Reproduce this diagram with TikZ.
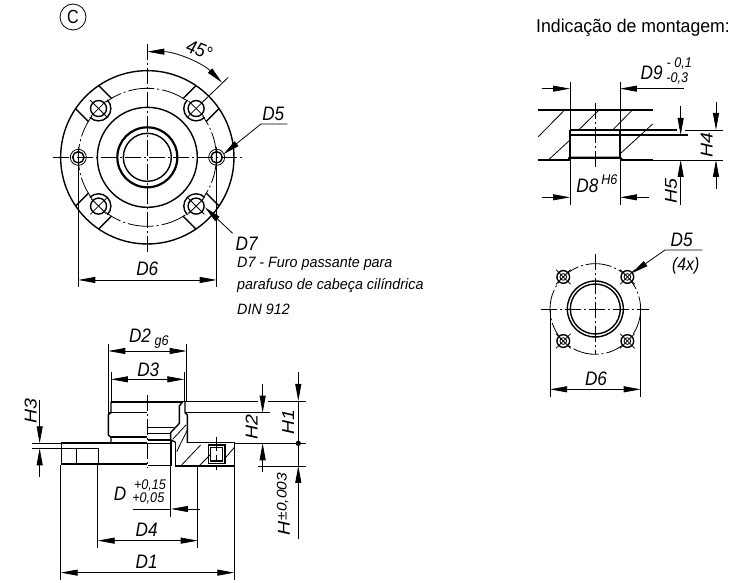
\documentclass[tikz,border=0pt]{standalone}
\usepackage{fontspec}
\setmainfont{Liberation Sans}
\usetikzlibrary{arrows.meta}
\tikzset{
  outline/.style={line width=1.4pt},
  heavy/.style={line width=2.2pt},
  thinline/.style={line width=0.8pt},
  dimline/.style={line width=0.8pt,>={Triangle[length=17pt,width=6pt]}},
  centerline/.style={line width=0.8pt,dash pattern=on 16pt off 3pt on 2pt off 3pt},
  dimlabel/.style={font=\fontsize{19.5}{19.5}\selectfont\itshape,inner sep=0pt,xscale=0.88},
  tollabel/.style={font=\fontsize{14}{14}\selectfont\itshape,inner sep=0pt,xscale=0.9},
  notelabel/.style={font=\fontsize{15}{16}\selectfont\itshape,inner sep=0pt,anchor=west,xscale=0.955}
}
\begin{document}
\begin{tikzpicture}[x=1pt,y=-1pt]
    \useasboundingbox (0,0) rectangle (750,583);

    % Title and note
    \node[draw,thinline,circle,minimum size=26pt,inner sep=0pt,font=\fontsize{19}{19}\selectfont] (markC) at (73,17) {\scalebox{0.85}[1]{C}};
    \node[font=\fontsize{18.5}{19}\selectfont,inner sep=0pt,anchor=west,xscale=0.956] (mounttitle) at (536,28) {Indicação de montagem:};

    % Flange seen from the front
    \begin{scope}[shift={(40,0)},scale=0.3333]
        \draw[outline] (322,472) circle[radius=260];
        \draw[outline] (322,472) circle[radius=150];
        \draw[heavy] (322,472) circle[radius=90];
        \draw[outline] (322,472) circle[radius=72];
        \draw[thinline,dash pattern=on 26pt off 3pt on 2pt off 3pt] (322,472) circle[radius=207];
        \draw[centerline] (38,472) -- (608,472);
        \draw[centerline] (322,132) -- (322,758);
        % Counterbored holes with their pockets
        \foreach \ang in {45,135,225,315} {
            \begin{scope}[shift={(322,472)},rotate=\ang]
                \fill[white] (207,0) circle[radius=30];
                \draw[outline] (207,37) arc[start angle=90,end angle=270,radius=37];
                \draw[outline] (207,0) circle[radius=24];
                \draw[outline] (200,49) -- (256,49);
                \draw[outline] (200,-49) -- (256,-49);
                \draw[thinline] (172,0) -- (242,0);
                \draw[thinline] (207,-32) -- (207,32);
            \end{scope}
        }
        % Plain holes on the axis
        \foreach \hx in {115,530} {
            \draw[outline] (\hx,472) circle[radius=17];
            \draw[thinline] (\hx,472) circle[radius=24];
            \draw[thinline] (\hx,440) -- (\hx,505);
        }
        % 45 degree dimension
        \coordinate (arcstart) at (322,155);
        \draw[thinline] (490,304) -- (565,232);
        \draw[dimline,<->] (arcstart) arc[start angle=-90,end angle=-45,radius=317];
        \node[dimlabel,rotate=-20] (angle45) at (478,150) {45°};
        % D5 and D7 leaders
        \coordinate (leadD5) at (663,372);
        \coordinate (tipD5) at (550,463);
        \draw[dimline,->] (leadD5) -- (tipD5);
        \draw[thinline] (leadD5) -- (742,372);
        \node[dimlabel] (labelD5) at (700,342) {D5};
        \coordinate (leadD7) at (578,700);
        \coordinate (tipD7) at (495,622);
        \draw[dimline,->] (leadD7) -- (tipD7);
        \node[dimlabel] (labelD7) at (620,732) {D7};
        % D6
        \draw[thinline] (115,472) -- (115,862);
        \draw[thinline] (530,472) -- (530,862);
        \draw[dimline,<->] (115,840) -- (530,840);
        \node[dimlabel] (labelD6) at (322,805) {D6};
    \end{scope}

    \node[notelabel] (note1) at (237,264) {D7 - Furo passante para};
    \node[notelabel] (note2) at (237,286) {parafuso de cabeça cilíndrica};
    \node[notelabel] (note3) at (237,309) {DIN 912};

    % Section through the flange
    \begin{scope}[shift={(20,320)},scale=0.3333]
        % hub, left half
        \draw[heavy] (273,245) -- (490,245);
        \draw[outline] (273,245) -- (273,278) -- (265,284) -- (265,345) -- (273,352) -- (273,368);
        \draw[outline] (265,278) -- (382,278);
        \draw[heavy] (273,350) -- (382,350);
        % hub, right half
        \draw[outline] (495,245) -- (495,278) -- (502,285) -- (502,368);
        \draw[outline] (488,245) -- (478,258) -- (478,310) -- (452,338) -- (452,360) -- (466,366);
        \draw[outline] (385,322) -- (462,322);
        \draw[outline] (385,340) -- (452,340);
        \draw[outline] (385,360) -- (452,360);
        \draw[thinline] (458,358) -- (498,315);
        \draw[thinline] (470,395) -- (502,330);
        % flange body
        \draw[heavy] (122,370) -- (382,370);
        \draw[outline] (385,370) -- (455,370);
        \draw[outline] (502,368) -- (643,368) -- (643,438);
        \draw[outline] (125,370) -- (125,432);
        \draw[heavy] (122,432) -- (382,432);
        \draw[outline] (385,436) -- (455,436);
        \draw[outline] (466,438) -- (645,438);
        \draw[outline] (125,385) -- (235,385) -- (235,432);
        \draw[outline] (170,385) -- (170,432);
        \draw[outline] (453,360) -- (453,436);
        \draw[line width=1pt] (453,436) -- (453,590);
        \draw[outline] (466,366) -- (466,438);
        % cap screw pocket
        \draw[outline] (565,375) rectangle (615,430);
        \draw[outline] (572,382) rectangle (608,423);
        \draw[thinline,dash pattern=on 14pt off 4pt on 6pt off 4pt] (590,350) -- (590,450);
        % hatching
        \draw[thinline] (485,435) -- (542,375);
        \draw[thinline] (540,435) -- (570,405);
        \draw[thinline] (615,415) -- (645,380);
        % axis
        \draw[centerline] (382,226) -- (382,445);
        % H3
        \draw[thinline] (37,370) -- (125,370);
        \draw[thinline] (37,385) -- (125,385);
        \draw[dimline,->] (59,240) -- (59,370);
        \draw[dimline,->] (59,472) -- (59,385);
        \node[dimlabel,rotate=90] (labelH3) at (32,272) {H3};
        % D2 and D3
        \draw[thinline] (265,72) -- (265,282);
        \draw[thinline] (500,72) -- (500,245);
        \draw[dimline,<->] (265,93) -- (500,93);
        \node[dimlabel] (labelD2) at (360,48) {D2};
        \node[tollabel] (tolD2) at (425,66) {g6};
        \draw[thinline] (273,155) -- (273,245);
        \draw[thinline] (493,155) -- (493,245);
        \draw[dimline,<->] (273,178) -- (493,178);
        \node[dimlabel] (labelD3) at (385,148) {D3};
        % H2, H1 and H
        \draw[thinline] (490,243) -- (715,243);
        \draw[thinline] (745,243) -- (858,243);
        \draw[thinline] (495,278) -- (750,278);
        \draw[thinline] (645,370) -- (858,370);
        \draw[thinline] (715,438) -- (858,438);
        \draw[dimline,->] (728,193) -- (728,278);
        \draw[dimline,->] (728,455) -- (728,370);
        \node[dimlabel,rotate=90] (labelH2) at (695,322) {H2};
        \draw[dimline,->] (835,157) -- (835,243);
        \draw[thinline] (835,243) -- (835,438);
        \fill (835,370) circle[radius=8];
        \draw[dimline,->] (835,658) -- (835,438);
        \node[dimlabel,rotate=90] (labelH1) at (805,305) {H1};
        \node[dimlabel,rotate=90] (labelH) at (792,625) {H};
        \node[tollabel,rotate=90,font=\fontsize{15.5}{15.5}\selectfont\itshape] (tolH) at (788,530) {±0,003};
        % D
        \draw[dimline,->] (540,567) -- (453,567);
        \draw[thinline] (338,567) -- (453,567);
        \node[dimlabel] (labelD) at (300,520) {D};
        \node[tollabel] (tolDa) at (390,498) {+0,15};
        \node[tollabel] (tolDb) at (385,537) {+0,05};
        % D4
        \draw[thinline] (233,436) -- (233,685);
        \draw[thinline] (533,438) -- (533,685);
        \draw[dimline,<->] (233,662) -- (533,662);
        \node[dimlabel] (labelD4) at (380,630) {D4};
        % D1
        \draw[thinline] (122,436) -- (122,780);
        \draw[thinline] (643,438) -- (643,780);
        \draw[dimline,<->] (122,758) -- (643,758);
        \node[dimlabel] (labelD1) at (380,725) {D1};
    \end{scope}

    % Mounting bore in section
    \begin{scope}[shift={(520,40)},scale=0.3333]
        \draw[outline] (55,210) -- (398,210);
        \draw[outline] (55,360) -- (150,360);
        \draw[outline] (300,360) -- (398,360);
        \draw[thinline] (398,360) -- (608,360);
        \draw[outline] (150,270) -- (470,270);
        \draw[thinline] (495,270) -- (608,270);
        \draw[outline] (150,285) -- (503,285);
        \draw[outline] (150,270) -- (150,353);
        \draw[outline] (300,270) -- (300,353);
        \draw[heavy] (145,356) -- (150,353) -- (300,353) -- (307,360);
        \draw[centerline] (225,190) -- (225,385);
        \draw[thinline] (150,125) -- (150,495);
        \draw[thinline] (300,125) -- (300,495);
        % hatching
        \draw[thinline] (55,290) -- (132,212);
        \draw[thinline] (85,360) -- (150,300);
        \draw[thinline] (178,268) -- (235,212);
        \draw[thinline] (280,268) -- (335,212);
        \draw[thinline] (302,340) -- (398,252);
        % D9 and D8
        \draw[dimline,->] (65,146) -- (150,146);
        \draw[dimline,->] (492,146) -- (300,146);
        \node[dimlabel] (labelD9) at (395,97) {D9};
        \node[tollabel] (tolD9a) at (478,72) {- 0,1};
        \node[tollabel] (tolD9b) at (472,115) {-0,3};
        \draw[dimline,->] (65,472) -- (150,472);
        \draw[dimline,->] (387,472) -- (300,472);
        \node[dimlabel] (labelD8) at (202,437) {D8};
        \node[tollabel] (tolD8) at (268,418) {H6};
        % H5 and H4
        \draw[dimline,->] (482,198) -- (482,285);
        \draw[dimline,->] (482,495) -- (482,360);
        \node[dimlabel,rotate=90] (labelH5) at (453,452) {H5};
        \draw[dimline,->] (588,187) -- (588,270);
        \draw[dimline,->] (588,447) -- (588,360);
        \node[dimlabel,rotate=90] (labelH4) at (560,315) {H4};
    \end{scope}

    % Mounting holes seen from above
    \begin{scope}[shift={(520,220)},scale=0.3333]
        \draw[outline] (226,267) circle[radius=84];
        \draw[outline] (226,267) circle[radius=75];
        \draw[thinline,dash pattern=on 26pt off 3pt on 2pt off 3pt] (226,267) circle[radius=136];
        \draw[centerline] (62,267) -- (386,267);
        \draw[centerline] (226,103) -- (226,403);
        \foreach \ang in {45,135,225,315} {
            \begin{scope}[shift={(226,267)},rotate=\ang]
                \fill[white] (136,0) circle[radius=20];
                \draw[outline] (136,0) circle[radius=19];
                \draw[thinline] (136,0) circle[radius=10];
                \draw[thinline] (105,0) -- (167,0);
                \draw[thinline] (136,-31) -- (136,31);
            \end{scope}
        }
        \coordinate (leadhole) at (435,90);
        \coordinate (tiphole) at (335,160);
        \draw[dimline,->] (leadhole) -- (tiphole);
        \draw[thinline] (leadhole) -- (547,90);
        \node[dimlabel] (labelholeD5) at (485,60) {D5};
        \node[font=\fontsize{18}{18}\selectfont\itshape,inner sep=0pt,xscale=0.88] (label4x) at (497,137) {(4x)};
        \draw[thinline] (90,267) -- (90,530);
        \draw[thinline] (362,267) -- (362,530);
        \draw[dimline,<->] (90,508) -- (362,508);
        \node[dimlabel] (labelholeD6) at (228,475) {D6};
    \end{scope}
\end{tikzpicture}
\end{document}
